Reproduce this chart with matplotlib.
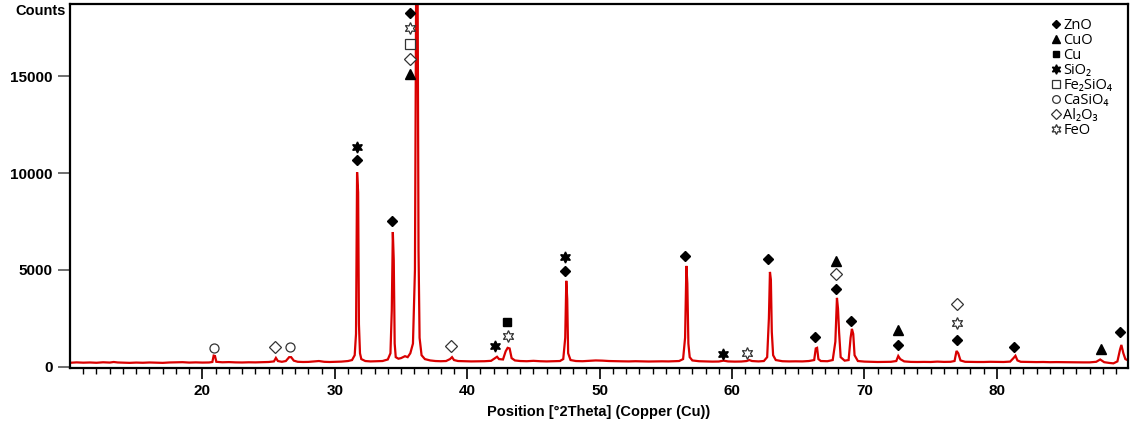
import numpy as np
import matplotlib
matplotlib.use('Agg')
import matplotlib.pyplot as plt
from matplotlib.lines import Line2D

plt.rcParams['font.family'] = ['Liberation Sans', 'DejaVu Sans']

# XRD pattern (2theta, counts)
tth = [10.0, 10.5, 11.0, 11.5, 12.0, 12.5, 13.0, 13.3, 13.6, 14.0, 14.5, 15.0, 15.5, 16.0,
       16.5, 17.0, 17.5, 18.0, 18.5, 19.0, 19.5, 20.0, 20.5, 20.75, 20.85, 20.95, 21.05, 21.5,
       22.0, 22.5, 23.0, 23.5, 24.0, 24.5, 25.0, 25.4, 25.55, 25.7, 26.0, 26.3, 26.55, 26.7,
       26.9, 27.2, 27.6, 28.0, 28.5, 28.8, 29.2, 29.6, 30.0, 30.5, 31.0, 31.3, 31.5, 31.6,
       31.68, 31.76, 31.82, 31.9, 32.0, 32.3, 32.7, 33.2, 33.6, 34.0, 34.2, 34.3, 34.38, 34.45,
       34.52, 34.6, 34.8, 35.0, 35.3, 35.5, 35.7, 35.9, 36.05, 36.15, 36.25, 36.32, 36.4, 36.55,
       36.8, 37.2, 37.6, 38.0, 38.4, 38.7, 38.85, 39.0, 39.3, 39.8, 40.3, 40.8, 41.3, 41.8,
       42.1, 42.25, 42.4, 42.7, 42.9, 43.05, 43.2, 43.35, 43.6, 44.0, 44.5, 45.0, 45.5, 46.0,
       46.5, 47.0, 47.25, 47.4, 47.48, 47.55, 47.62, 47.8, 48.2, 48.7, 49.2, 49.7, 50.2, 50.7,
       51.2, 51.7, 52.2, 52.7, 53.2, 53.7, 54.2, 54.7, 55.2, 55.7, 56.0, 56.3, 56.45, 56.55,
       56.62, 56.7, 56.8, 57.0, 57.5, 58.0, 58.5, 59.0, 59.35, 59.7, 60.2, 60.7, 61.1, 61.3,
       61.5, 62.0, 62.4, 62.65, 62.78, 62.86, 62.93, 63.0, 63.1, 63.3, 63.8, 64.3, 64.8, 65.3,
       65.8, 66.2, 66.32, 66.42, 66.52, 66.7, 67.2, 67.6, 67.8, 67.92, 68.0, 68.08, 68.2, 68.5,
       68.8, 68.95, 69.05, 69.15, 69.25, 69.5, 70.0, 70.5, 71.0, 71.5, 72.0, 72.4, 72.55, 72.7,
       73.0, 73.5, 74.0, 74.5, 75.0, 75.5, 76.0, 76.5, 76.8, 76.95, 77.08, 77.25, 77.6, 78.0,
       78.5, 79.0, 79.5, 80.0, 80.5, 81.0, 81.25, 81.4, 81.55, 81.8, 82.5, 83.0, 83.5, 84.0,
       84.5, 85.0, 85.5, 86.0, 86.5, 87.0, 87.5, 87.8, 88.1, 88.5, 88.8, 89.1, 89.3, 89.4,
       89.55, 89.7, 90.0]
counts = [210, 230, 215, 225, 210, 235, 220, 250, 225, 215, 205, 220, 210, 225,
          215, 205, 225, 230, 240, 220, 230, 220, 225, 250, 580, 560, 260, 235,
          245, 230, 225, 235, 230, 240, 250, 280, 460, 300, 260, 300, 500, 500,
          320, 260, 250, 255, 280, 300, 260, 250, 260, 270, 300, 350, 600, 1700,
          10050, 9000, 2200, 700, 400, 300, 280, 290, 300, 380, 700, 2900, 6960, 5500,
          1200, 500, 420, 450, 550, 500, 700, 1200, 5000, 21000, 20000, 6000, 1500, 600,
          400, 330, 300, 290, 300, 400, 500, 350, 300, 290, 280, 285, 290, 310,
          450, 520, 400, 380, 800, 980, 950, 450, 330, 300, 290, 310, 290, 280,
          290, 300, 400, 1500, 4440, 3500, 700, 350, 300, 290, 310, 330, 320, 300,
          290, 285, 280, 290, 280, 275, 280, 285, 280, 290, 300, 400, 1500, 5210,
          4300, 1200, 500, 330, 290, 280, 270, 275, 320, 280, 270, 275, 300, 350,
          300, 280, 300, 500, 2500, 4900, 4500, 1800, 600, 350, 290, 280, 285, 280,
          300, 350, 950, 980, 400, 300, 290, 350, 1300, 3560, 3000, 1800, 500, 320,
          350, 1500, 1960, 1700, 600, 300, 270, 260, 250, 255, 260, 300, 560, 400,
          280, 255, 250, 255, 250, 270, 255, 260, 300, 820, 700, 330, 260, 255,
          250, 250, 260, 255, 250, 270, 450, 570, 330, 260, 250, 245, 250, 240,
          245, 240, 240, 235, 230, 230, 260, 380, 240, 200, 180, 280, 900, 1130,
          700, 400, 300]

# phase markers (2theta, counts) per phase
zno_x = [31.65, 34.35, 35.7, 47.4, 56.45, 62.75, 66.3, 67.85, 69.0, 72.5, 76.95, 81.3, 89.3]
zno_y = [10680, 7530, 18270, 4950, 5710, 5570, 1550, 4020, 2390, 1135, 1390, 1000, 1820]
cuo_x = [35.65, 67.85, 72.5, 87.85]
cuo_y = [15120, 5470, 1910, 930]
cu_x = [43.0]
cu_y = [2320]
sio2_x = [31.65, 42.1, 47.4, 59.3]
sio2_y = [11350, 1080, 5680, 670]
fe2sio4_x = [35.7]
fe2sio4_y = [16670]
casio4_x = [20.85, 26.6]
casio4_y = [980, 1010]
al2o3_x = [35.65, 25.45, 38.8, 67.85, 76.95]
al2o3_y = [15890, 1000, 1050, 4800, 3250]
feo_x = [35.7, 43.05, 61.15, 76.95]
feo_y = [17490, 1600, 720, 2270]

labels = ['ZnO', 'CuO', 'Cu', 'SiO₂', 'Fe₂SiO₄', 'CaSiO₄', 'Al₂O₃', 'FeO']

star6 = (6, 1, 0)
styles = [
    dict(marker='D', ms=5.2, mfc='black', mec='black'),
    dict(marker='^', ms=7.5, mfc='black', mec='black'),
    dict(marker='s', ms=5.5, mfc='black', mec='black'),
    dict(marker=star6, ms=8, mfc='black', mec='black'),
    dict(marker='s', ms=6.5, mfc='white', mec='#333333', mew=0.9),
    dict(marker='o', ms=6.5, mfc='white', mec='#333333', mew=0.9),
    dict(marker='D', ms=6, mfc='white', mec='#333333', mew=0.9),
    dict(marker=star6, ms=8.5, mfc='white', mec='#333333', mew=0.9),
]
phase_x = [zno_x, cuo_x, cu_x, sio2_x, fe2sio4_x, casio4_x, al2o3_x, feo_x]
phase_y = [zno_y, cuo_y, cu_y, sio2_y, fe2sio4_y, casio4_y, al2o3_y, feo_y]

fig = plt.figure(figsize=(11.36, 4.32), dpi=100)
ax = fig.add_axes([70 / 1136, 1 - 368 / 432, 1058 / 1136, 364 / 432])

ax.plot(tth, counts, color='#d90000', lw=1.6, solid_joinstyle='miter')

for xs, ys, st in zip(phase_x, phase_y, styles):
    ax.plot(xs, ys, ls='none', zorder=5, **st)

ax.set_xlim(10, 89.9)
ax.set_ylim(-60, 18730)
ax.set_xticks([20, 30, 40, 50, 60, 70, 80])
ax.set_xticks(np.arange(11, 90, 1), minor=True)
ax.set_yticks([0, 5000, 10000, 15000])
ax.tick_params(axis='x', which='major', length=8, width=1.2, direction='out', color='black',
               labelsize=11)
ax.tick_params(axis='x', which='minor', length=4, width=1.0, direction='out', color='black')
ax.tick_params(axis='y', which='major', length=9, width=1.2, direction='out', color='#555555',
               labelsize=11)
for lab in ax.get_xticklabels() + ax.get_yticklabels():
    lab.set_fontweight('bold')
for sp in ax.spines.values():
    sp.set_linewidth(1.6)
    sp.set_color('black')

ax.set_xlabel('Position [°2Theta] (Copper (Cu))', fontsize=10.5, fontweight='bold', labelpad=5)
fig.text(15 / 1136, 1 - 11 / 432, 'Counts', fontsize=10.5, fontweight='bold', va='center', ha='left')

handles = [Line2D([], [], ls='none', **{**st, 'ms': st['ms'] * 0.85}) for st in styles]
leg = ax.legend(handles, labels, loc='upper left', bbox_to_anchor=(1045 / 1136, 1 - 11 / 432),
                bbox_transform=fig.transFigure, frameon=False,
                handlelength=0.5, handletextpad=0.25, labelspacing=0.0, borderpad=0,
                prop={'family': ['Open Sans', 'DejaVu Sans'], 'size': 10.5})

fig.savefig('out.png', dpi=100)
